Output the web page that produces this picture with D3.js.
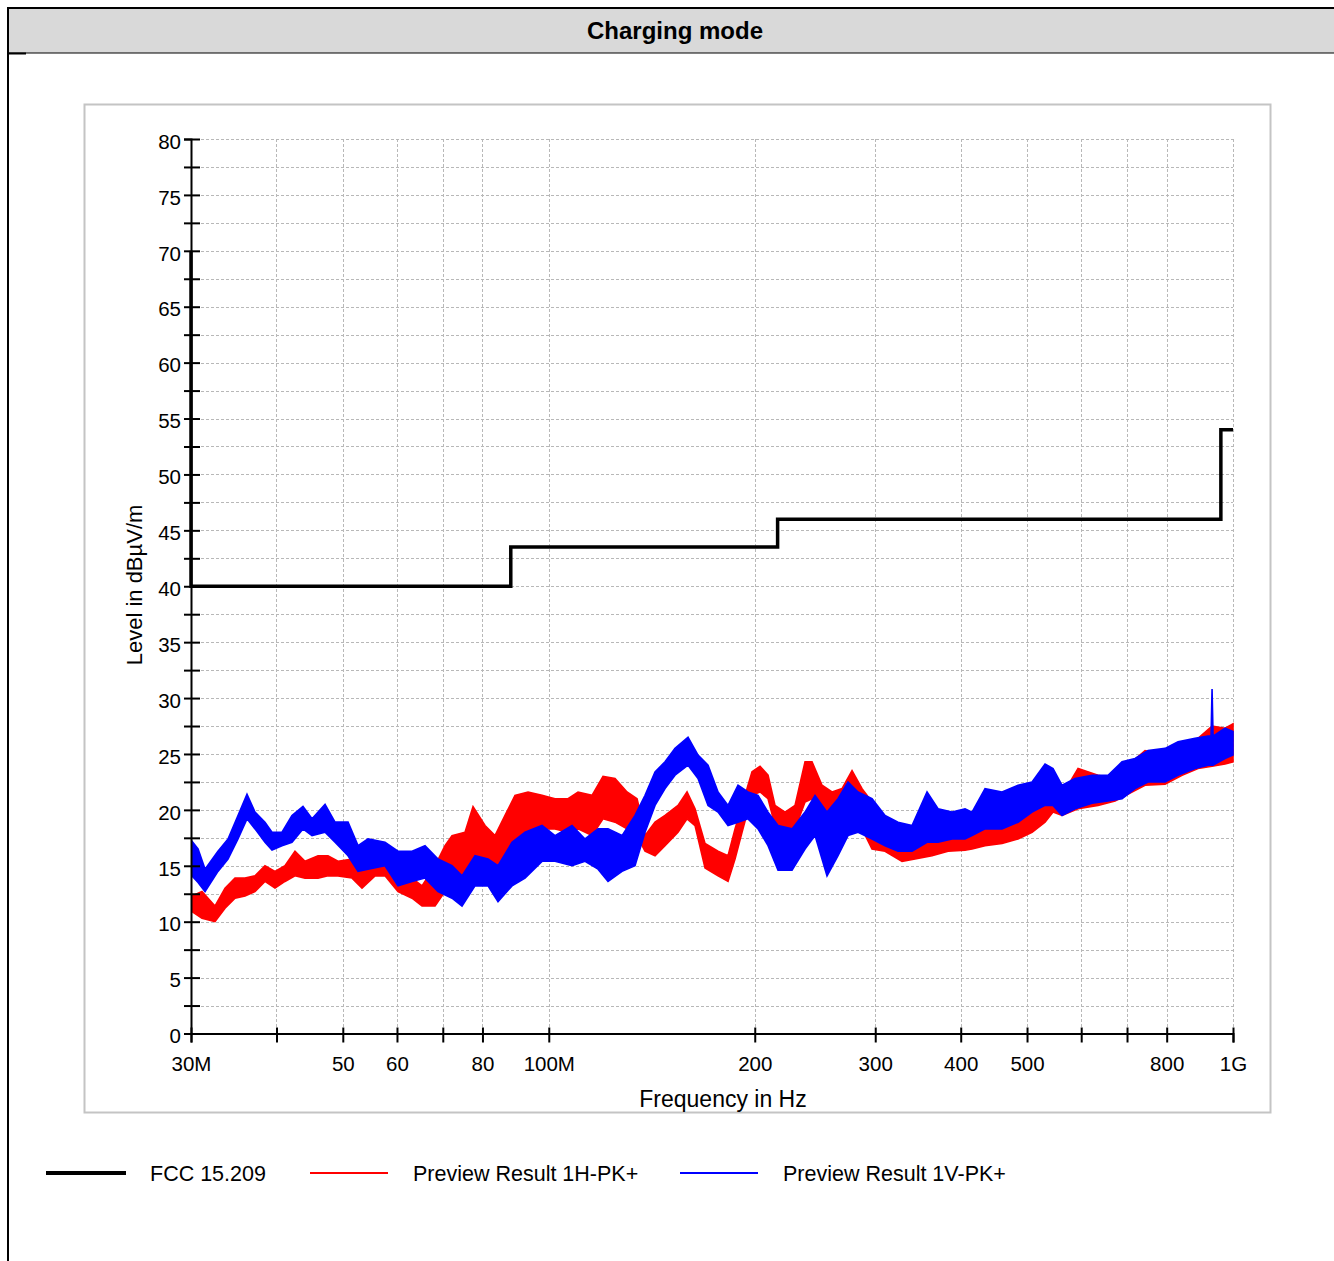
<!DOCTYPE html>
<html>
<head>
<meta charset="utf-8">
<script src="https://cdn.jsdelivr.net/npm/d3@7"></script>
<style>
html,body{margin:0;padding:0;background:#fff;}
svg{display:block;font-family:"Liberation Sans",Arial,Helvetica,sans-serif;}
</style>
</head>
<body>
<svg id="chart" width="1334" height="1261"></svg>
<script>
// ---------------- data ----------------
const chartTitle = "Charging mode";
const xAxisTitle = "Frequency in Hz";
const yAxisTitle = "Level in dBµV/m";
const xTickValues = [30,40,50,60,70,80,100,200,300,400,500,600,700,800,1000];
const xTickLabels = ["30M","","50","60","","80","100M","200","300","400","500","","","800","1G"];
const yTickValues = [0,2.5,5,7.5,10,12.5,15,17.5,20,22.5,25,27.5,30,32.5,35,37.5,40,42.5,45,47.5,50,52.5,55,57.5,60,62.5,65,67.5,70,72.5,75,77.5,80];
const seriesNames = ["FCC 15.209","Preview Result 1H-PK+","Preview Result 1V-PK+"];

// FCC 15.209 limit (MHz, dBµV/m)
const limitF = [30,30,88,88,216,216,960,960,1000];
const limitV = [70,40,40,43.5,43.5,46,46,54,54];

// Preview Result 1H-PK+ (red): frequency (MHz), upper and lower envelope (dBµV/m)
const redF = [30.10,31.13,32.52,33.64,34.79,35.98,37.21,38.48,39.80,41.16,
42.57,44.03,46.00,47.57,49.20,51.58,53.34,55.73,57.63,60.21,
63.12,65.28,68.20,70.53,72.21,75.44,77.50,80.69,83.45,86.31,
89.26,93.26,97.75,102.13,106.70,110.35,115.67,120.03,124.98,130.13,
134.59,136.41,138.26,142.99,147.88,154.49,159.25,163.59,169.19,176.76,
182.81,187.16,191.63,198.18,203.59,209.15,214.13,221.46,229.04,236.88,
242.52,250.82,259.41,268.29,277.47,286.97,296.79,310.07,328.32,343.01,
363.20,383.30,405.86,415.54,434.12,459.68,485.11,508.52,531.26,545.75,
562.54,593.66,634.98,672.39,711.99,743.83,795.61,842.45,889.07,931.96,
973.64,1000];
const redHi = [12.3,12.7,11.4,13.0,13.9,13.9,14.1,15.0,14.5,15.0,
16.3,15.4,15.9,15.9,15.4,15.6,15.0,15.6,15.4,14.7,
13.9,13.2,15.0,16.8,17.7,18.0,20.3,18.6,17.7,19.5,
21.3,21.6,21.3,21.0,21.0,21.6,21.3,23.0,22.8,21.6,
21.0,19.5,17.7,18.9,19.5,20.4,21.6,20.1,17.0,16.3,
15.9,18.3,20.4,23.4,23.9,23.1,20.4,19.8,20.4,24.3,
24.3,22.2,21.6,21.9,23.5,21.9,20.7,19.2,18.0,18.6,
17.7,17.7,17.4,18.3,18.6,18.3,18.9,19.8,20.7,21.0,
21.3,23.7,23.1,22.8,24.3,25.3,24.9,25.7,26.4,27.5,
27.3,27.7];
const redLo = [10.9,10.3,10.0,11.2,12.1,12.3,12.7,13.6,13.0,13.6,
14.1,13.9,13.9,14.1,14.1,13.9,13.0,14.1,14.1,12.7,
12.1,11.4,11.4,12.7,14.5,14.1,15.6,15.6,14.1,15.9,
17.1,18.0,18.3,18.3,18.0,18.3,17.7,19.2,18.9,18.3,
18.9,17.0,16.3,15.9,16.8,18.0,19.2,18.6,14.8,14.1,
13.6,15.6,18.0,21.3,21.6,21.0,18.6,18.3,18.3,20.7,
21.0,19.8,19.2,19.2,19.8,18.3,16.5,16.3,15.4,15.6,
15.9,16.3,16.4,16.5,16.8,17.0,17.4,18.0,18.9,19.8,
19.5,20.1,20.4,20.8,21.6,22.2,22.3,23.1,23.7,23.9,
24.1,24.3];

// Preview Result 1V-PK+ (blue)
const blueF = [30.10,30.72,31.45,32.85,33.98,35.14,36.22,37.21,38.48,39.40,
40.75,42.14,43.73,45.08,47.10,48.71,50.89,52.63,54.43,57.63,
60.21,63.12,65.94,68.89,72.21,74.68,78.02,81.51,84.30,88.37,
92.32,97.75,102.13,108.14,112.98,118.03,122.07,127.96,133.68,138.26,
142.99,147.88,152.94,159.78,165.25,170.91,176.76,182.81,189.06,195.53,
202.22,209.15,216.30,226.74,236.88,244.99,255.08,264.70,273.76,283.13,
296.79,310.07,323.93,339.56,357.14,370.61,388.49,405.86,415.54,434.12,
459.68,485.11,508.52,531.26,545.75,562.54,587.69,622.30,656.74,688.42,
719.21,751.38,795.61,831.19,880.14,919.50,928.83,931.96,935.10,973.64,
1000];
const blueHi = [17.2,16.5,14.7,16.3,17.4,19.5,21.4,19.8,18.9,18.0,
18.0,19.5,20.3,19.2,20.5,18.9,18.9,16.8,17.4,17.1,
16.3,16.3,16.8,15.6,15.0,14.1,15.9,15.6,15.0,17.1,
18.0,18.6,17.7,18.6,17.4,18.3,18.3,17.7,19.5,21.3,
23.4,24.3,25.5,26.5,24.9,24.0,21.6,20.4,22.2,21.6,
21.3,19.8,18.6,18.3,19.8,21.3,19.8,21.0,22.5,21.6,
21.0,19.5,18.9,18.6,21.6,20.1,19.8,20.1,19.8,21.9,
21.6,22.2,22.5,24.1,23.7,22.2,22.8,23.1,23.1,24.3,
24.6,25.3,25.5,26.1,26.4,26.6,26.6,30.8,26.6,27.3,
27.0];
const blueLo = [14.1,13.5,12.7,14.5,15.6,17.4,19.2,18.3,17.1,16.4,
16.8,17.1,18.3,17.7,18.0,17.1,15.9,14.5,14.7,15.0,
13.2,13.6,13.9,12.7,12.1,11.4,13.2,13.2,11.8,13.2,
13.9,15.4,15.4,15.0,15.4,14.7,13.6,14.5,15.0,18.0,
20.4,21.9,23.1,24.0,22.8,20.4,19.8,18.6,18.9,19.2,
18.3,16.8,14.6,14.6,16.5,17.7,14.1,15.9,17.7,18.0,
17.4,16.8,16.3,16.3,17.1,17.1,17.4,17.4,17.7,18.3,
18.3,18.9,19.8,20.4,20.4,19.5,20.1,20.6,20.8,21.0,
21.9,22.5,22.5,23.1,23.7,24.0,24.0,24.0,24.0,24.6,
24.9];

// ---------------- drawing ----------------
const svg = d3.select("#chart");
const X0 = 191, X1 = 1233, YTOP = 139, YBOT = 1033.5;
const x = d3.scaleLog().domain([30, 1000]).range([X0, X1]);
const y = d3.scaleLinear().domain([0, 80]).range([YBOT, YTOP]);

// outer frame and title bar
svg.append("rect").attr("x", 8).attr("y", 8).attr("width", 1400).attr("height", 1400)
  .attr("fill", "#fff").attr("stroke", "#000").attr("stroke-width", 2);
svg.append("rect").attr("x", 9).attr("y", 9).attr("width", 1400).attr("height", 44)
  .attr("fill", "#d9d9d9");
svg.append("line").attr("x1", 8).attr("x2", 1334).attr("y1", 53).attr("y2", 53)
  .attr("stroke", "#000").attr("stroke-width", 1.2);
svg.append("line").attr("x1", 8).attr("x2", 26).attr("y1", 53.5).attr("y2", 53.5)
  .attr("stroke", "#000").attr("stroke-width", 2);
svg.append("text").attr("x", 675).attr("y", 39).attr("text-anchor", "middle")
  .attr("font-size", 24).attr("font-weight", "bold").attr("fill", "#000").text(chartTitle);

// inner panel
svg.append("rect").attr("x", 84.5).attr("y", 104.5).attr("width", 1186).attr("height", 1008)
  .attr("fill", "#fff").attr("stroke", "#c4c4c4").attr("stroke-width", 2);

// grid
const grid = svg.append("g").attr("stroke", "#b8b8b8").attr("stroke-width", 1)
  .attr("stroke-dasharray", "3,2").attr("fill", "none");
grid.selectAll("line.h").data(yTickValues.filter(v => v > 0)).join("line")
  .attr("x1", X0).attr("x2", X1)
  .attr("y1", d => Math.round(y(d)) + 0.5).attr("y2", d => Math.round(y(d)) + 0.5);
grid.selectAll("line.v").data(xTickValues.filter(v => v > 30)).join("line")
  .attr("y1", YTOP).attr("y2", YBOT)
  .attr("x1", d => Math.round(x(d)) + 0.5).attr("x2", d => Math.round(x(d)) + 0.5);

// traces
function band(F, Hi, Lo) {
  return F.map((f, i) => ({f: f, hi: Hi[i], lo: Lo[i]}));
}
const area = d3.area().x(d => x(d.f)).y0(d => y(d.lo)).y1(d => y(d.hi));
const redData = band(redF, redHi, redLo);
const blueData = band(blueF, blueHi, blueLo);
svg.append("path").datum(redData).attr("d", area)
  .attr("fill", "#ff0000").attr("stroke", "#ff0000").attr("stroke-width", 1.6).attr("stroke-linejoin", "miter");
svg.append("path").datum(blueData).attr("d", area)
  .attr("fill", "#0000ff").attr("stroke", "#0000ff").attr("stroke-width", 1.6).attr("stroke-linejoin", "miter");

// axes
const yAxis = d3.axisLeft(y).tickValues(yTickValues)
  .tickFormat(d => (d % 5 === 0 ? d3.format("d")(d) : "")).tickSizeOuter(0).tickSize(7).tickPadding(4);
const gy = svg.append("g").attr("transform", `translate(${X0},0)`).call(yAxis);
gy.attr("font-family", null);
gy.select(".domain").attr("stroke", "#000").attr("stroke-width", 2);
gy.selectAll(".tick line").attr("x1", 9).attr("x2", -7).attr("stroke", "#000").attr("stroke-width", 2);
gy.selectAll(".tick text").attr("x", -10).attr("dy", "0.45em")
  .attr("font-size", 20.5).attr("fill", "#000");

const xAxis = d3.axisBottom(x).tickValues(xTickValues)
  .tickFormat((d, i) => xTickLabels[i]).tickSizeOuter(0).tickSize(9);
const gx = svg.append("g").attr("transform", `translate(0,${YBOT})`).call(xAxis);
gx.attr("font-family", null);
gx.select(".domain").attr("stroke", "#000").attr("stroke-width", 2);
gx.selectAll(".tick line").attr("y1", -6).attr("y2", 9).attr("stroke", "#000").attr("stroke-width", 2);
gx.selectAll(".tick text").attr("y", 37.5).attr("dy", 0)
  .attr("font-size", 20.5).attr("fill", "#000");

// limit line
const limitData = limitF.map((f, i) => ({f: f, v: limitV[i]}));
svg.append("path").datum(limitData)
  .attr("d", d3.line().x(d => x(d.f)).y(d => y(d.v)))
  .attr("fill", "none").attr("stroke", "#000").attr("stroke-width", 3.5).attr("stroke-linejoin", "miter");

// axis titles
svg.append("text").attr("x", 723).attr("y", 1107).attr("text-anchor", "middle")
  .attr("font-size", 23).attr("fill", "#000").text(xAxisTitle);
svg.append("text").attr("transform", "translate(142,585) rotate(-90)").attr("text-anchor", "middle")
  .attr("font-size", 22).attr("fill", "#000").text(yAxisTitle);

// legend
const legendItems = [
  {name: seriesNames[0], color: "#000000", width: 4, x1: 46, x2: 126, tx: 150},
  {name: seriesNames[1], color: "#ff0000", width: 2, x1: 310, x2: 388, tx: 413},
  {name: seriesNames[2], color: "#0000ff", width: 2, x1: 680, x2: 758, tx: 783}
];
const lg = svg.append("g");
legendItems.forEach(it => {
  lg.append("line").attr("x1", it.x1).attr("x2", it.x2).attr("y1", 1173).attr("y2", 1173)
    .attr("stroke", it.color).attr("stroke-width", it.width);
  lg.append("text").attr("x", it.tx).attr("y", 1181).attr("font-size", 21.5).attr("fill", "#000").text(it.name);
});
</script>
</body>
</html>
